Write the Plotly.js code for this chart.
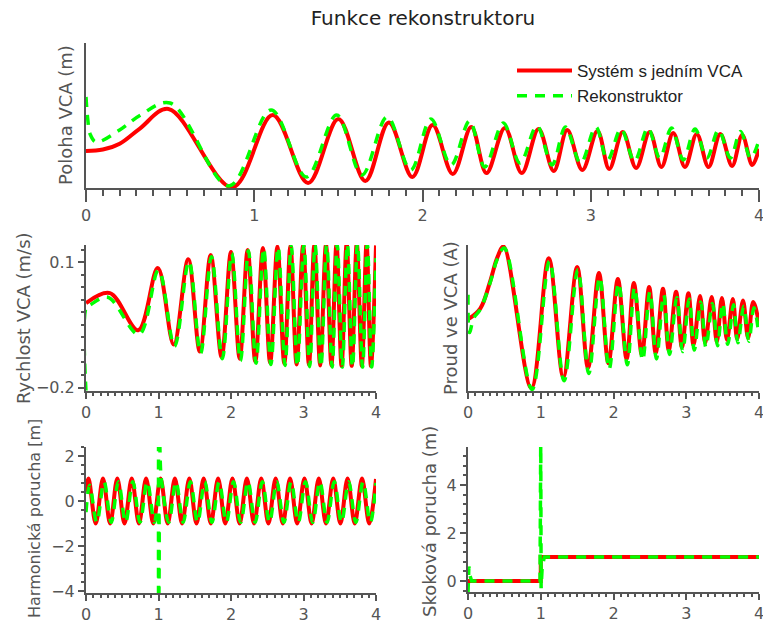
<!DOCTYPE html>
<html>
<head>
<meta charset="utf-8">
<script src="https://cdn.plot.ly/plotly-3.0.1.min.js"></script>
<style>html,body{margin:0;padding:0;background:#fff;}#chart{width:763px;height:621px;}</style>
</head>
<body>
<div id="chart"></div>
<script>
// ---------- data (extrema of each curve) ----------
var seriesNames = ["Systém s jedním VCA", "Rekonstruktor"];

// Poloha VCA (normalised units, axis has no tick labels)
var posT_sys = [0, 0.1, 0.2, 0.32, 0.49, 0.87, 1.11, 1.32, 1.50, 1.66, 1.80, 1.94, 2.06, 2.18, 2.29, 2.38, 2.49, 2.59, 2.69, 2.78, 2.86, 2.95, 3.04, 3.11, 3.19, 3.27, 3.35, 3.42, 3.49, 3.56, 3.63, 3.70, 3.77, 3.84, 3.90, 3.96, 4.0];
var posY_sys = [0.255, 0.265, 0.305, 0.41, 0.545, 0.005, 0.503, 0.034, 0.476, 0.048, 0.452, 0.076, 0.434, 0.097, 0.421, 0.103, 0.414, 0.103, 0.407, 0.117, 0.40, 0.124, 0.393, 0.131, 0.386, 0.138, 0.386, 0.145, 0.38, 0.145, 0.372, 0.145, 0.372, 0.152, 0.366, 0.159, 0.27];
var posT_rec = [0, 0.01, 0.025, 0.06, 0.2, 0.32, 0.50, 0.85, 1.10, 1.31, 1.49, 1.64, 1.79, 1.93, 2.05, 2.17, 2.28, 2.37, 2.48, 2.58, 2.68, 2.77, 2.85, 2.94, 3.03, 3.10, 3.18, 3.26, 3.34, 3.41, 3.48, 3.55, 3.62, 3.69, 3.76, 3.83, 3.89, 3.95, 4.0];
var posY_rec = [0.628, 0.48, 0.37, 0.317, 0.40, 0.50, 0.586, 0.014, 0.538, 0.076, 0.503, 0.09, 0.49, 0.124, 0.476, 0.159, 0.462, 0.145, 0.448, 0.172, 0.428, 0.159, 0.42, 0.172, 0.42, 0.193, 0.407, 0.186, 0.414, 0.207, 0.414, 0.193, 0.407, 0.207, 0.40, 0.207, 0.39, 0.207, 0.33];

// Rychlost VCA (m/s)
var velT_sys = [0, 0.33, 0.72, 0.99, 1.21, 1.41, 1.57, 1.72, 1.87, 2.00, 2.12, 2.23, 2.335, 2.44, 2.54, 2.64, 2.735, 2.82, 2.905, 2.995, 3.075, 3.15, 3.23, 3.31, 3.385, 3.455, 3.525, 3.595, 3.665, 3.735, 3.805, 3.87, 3.93, 4.0];
var velY_sys = [0.002, 0.026, -0.063, 0.086, -0.097, 0.107, -0.114, 0.117, -0.127, 0.124, -0.131, 0.129, -0.138, 0.134, -0.141, 0.137, -0.143, 0.139, -0.145, 0.141, -0.146, 0.142, -0.147, 0.143, -0.147, 0.144, -0.148, 0.144, -0.148, 0.145, -0.148, 0.145, -0.148, 0.14];
var velT_rec = [0, 0.004, 0.05, 0.30, 0.73, 1.00, 1.22, 1.42, 1.58, 1.73, 1.88, 2.01, 2.13, 2.24, 2.345, 2.45, 2.55, 2.65, 2.745, 2.83, 2.915, 3.005, 3.085, 3.16, 3.24, 3.32, 3.395, 3.465, 3.535, 3.605, 3.675, 3.745, 3.815, 3.88, 3.94, 4.0];
var velY_rec = [-0.21, -0.008, -0.003, 0.016, -0.073, 0.081, -0.101, 0.102, -0.118, 0.113, -0.131, 0.121, -0.136, 0.127, -0.142, 0.133, -0.145, 0.136, -0.147, 0.138, -0.149, 0.14, -0.15, 0.141, -0.15, 0.142, -0.151, 0.143, -0.151, 0.143, -0.151, 0.144, -0.151, 0.144, -0.151, 0.11];

// Proud ve VCA (normalised units, axis has no tick labels)
var curT_sys = [0, 0.17, 0.31, 0.40, 0.49, 0.87, 1.11, 1.31, 1.50, 1.65, 1.80, 1.93, 2.06, 2.18, 2.28, 2.39, 2.49, 2.58, 2.68, 2.76, 2.86, 2.94, 3.03, 3.10, 3.19, 3.26, 3.35, 3.42, 3.49, 3.56, 3.64, 3.70, 3.78, 3.85, 3.92, 4.0];
var curY_sys = [0.49, 0.566, 0.76, 0.91, 0.99, 0.02, 0.91, 0.096, 0.85, 0.158, 0.808, 0.19, 0.767, 0.22, 0.74, 0.247, 0.712, 0.26, 0.70, 0.28, 0.68, 0.30, 0.67, 0.315, 0.65, 0.33, 0.644, 0.336, 0.637, 0.35, 0.63, 0.356, 0.62, 0.363, 0.61, 0.466];
var curT_rec = [0, 0.02, 0.08, 0.17, 0.31, 0.40, 0.50, 0.88, 1.12, 1.32, 1.51, 1.66, 1.81, 1.94, 2.07, 2.19, 2.29, 2.40, 2.50, 2.59, 2.69, 2.77, 2.87, 2.95, 3.04, 3.11, 3.20, 3.27, 3.36, 3.43, 3.50, 3.57, 3.65, 3.71, 3.79, 3.86, 3.93, 4.0];
var curY_rec = [0.66, 0.40, 0.50, 0.56, 0.75, 0.90, 0.98, 0.01, 0.89, 0.07, 0.83, 0.12, 0.78, 0.15, 0.74, 0.18, 0.71, 0.21, 0.68, 0.22, 0.66, 0.25, 0.64, 0.27, 0.63, 0.28, 0.61, 0.30, 0.60, 0.31, 0.60, 0.32, 0.59, 0.33, 0.58, 0.34, 0.57, 0.38];

// Harmonická porucha [m]
var harT_sys = [0, 0.035, 0.134, 0.234, 0.333, 0.432, 0.531, 0.631, 0.730, 0.829, 0.928, 1.028, 1.127, 1.226, 1.325, 1.425, 1.524, 1.623, 1.722, 1.822, 1.921, 2.020, 2.119, 2.219, 2.318, 2.417, 2.516, 2.616, 2.715, 2.814, 2.913, 3.013, 3.112, 3.211, 3.310, 3.410, 3.509, 3.608, 3.707, 3.807, 3.906, 4.0];
var harY_sys = [0.41, 1, -1, 1, -1, 1, -1, 1, -1, 1, -1, 1, -1, 1, -1, 1, -1, 1, -1, 1, -1, 1, -1, 1, -1, 1, -1, 1, -1, 1, -1, 1, -1, 1, -1, 1, -1, 1, -1, 1, -1, 0.98];
var harT_rec = [0, 0.05, 0.149, 0.249, 0.348, 0.447, 0.546, 0.646, 0.745, 0.844, 0.943, 0.995, 1.0, 1.006, 1.03, 1.045, 1.142, 1.241, 1.340, 1.440, 1.539, 1.638, 1.737, 1.837, 1.936, 2.035, 2.134, 2.234, 2.333, 2.432, 2.531, 2.631, 2.730, 2.829, 2.928, 3.028, 3.127, 3.226, 3.325, 3.425, 3.524, 3.623, 3.722, 3.822, 3.921, 4.0];
var harY_rec = [-0.5, 0.7, -0.95, 0.85, -0.95, 0.85, -0.95, 0.85, -0.95, 0.85, -0.95, 0.0, -6.0, 4.0, 1.3, 0.85, -0.95, 0.85, -0.95, 0.85, -0.95, 0.85, -0.95, 0.85, -0.95, 0.85, -0.95, 0.85, -0.95, 0.85, -0.95, 0.85, -0.95, 0.85, -0.95, 0.85, -0.95, 0.85, -0.95, 0.85, -0.95, 0.85, -0.95, 0.85, -0.95, 0.8];

// Skoková porucha (m)
var stepT_sys = [0, 1.0, 1.0, 4.0];
var stepY_sys = [0, 0, 1, 1];
var stepT_rec = [0, 0.006, 0.012, 0.025, 0.05, 0.99, 1.0, 1.005, 1.02, 1.05, 4.0];
var stepY_rec = [-0.5, 0.2, 0.6, 0.25, 0.0, 0.0, 6.0, -0.3, 0.6, 1.0, 1.0];

var xTickVals = [0, 1, 2, 3, 4];

// ---------- styling ----------
var RED = '#ff0000', GREEN = '#00ff00';
var AX = '#555555';
var FONT = 'DejaVu Sans, Verdana, sans-serif';

function sysTrace(x, y, xa, ya, shape, show) {
  return {x: x, y: y, xaxis: xa, yaxis: ya, type: 'scatter', mode: 'lines', name: seriesNames[0],
          showlegend: !!show, legendgroup: 'sys',
          line: {color: RED, width: 4, shape: shape, smoothing: 1}};
}
function recTrace(x, y, xa, ya, shape, show) {
  return {x: x, y: y, xaxis: xa, yaxis: ya, type: 'scatter', mode: 'lines', name: seriesNames[1],
          showlegend: !!show, legendgroup: 'rec',
          line: {color: GREEN, width: 3.5, dash: '10px,8px', shape: shape, smoothing: 1}};
}

var data = [
  sysTrace(posT_sys, posY_sys, 'x', 'y', 'spline', true),
  recTrace(posT_rec, posY_rec, 'x', 'y', 'spline', true),
  sysTrace(velT_sys, velY_sys, 'x2', 'y2', 'spline'),
  recTrace(velT_rec, velY_rec, 'x2', 'y2', 'spline'),
  sysTrace(curT_sys, curY_sys, 'x3', 'y3', 'spline'),
  recTrace(curT_rec, curY_rec, 'x3', 'y3', 'spline'),
  sysTrace(harT_sys, harY_sys, 'x4', 'y4', 'spline'),
  recTrace(harT_rec, harY_rec, 'x4', 'y4', 'spline'),
  sysTrace(stepT_sys, stepY_sys, 'x5', 'y5', 'linear'),
  recTrace(stepT_rec, stepY_rec, 'x5', 'y5', 'linear')
];

var W = 763, H = 621;
function dx(a, b) { return [a / W, b / W]; }
function dy(top, bottom) { return [1 - bottom / H, 1 - top / H]; }

function xAx(domain, anchor, big) {
  return {domain: domain, anchor: anchor, range: [0, 4], tickmode: 'array', tickvals: xTickVals,
          ticks: 'outside', ticklen: big ? 12 : 6, tickwidth: 2, tickcolor: AX,
          minor: {tickmode: 'linear', tick0: 0, dtick: 0.1, ticks: 'outside', ticklen: big ? 6 : 3, tickwidth: 2, tickcolor: AX, showgrid: false},
          showline: true, linecolor: AX, linewidth: 2, showgrid: false, zeroline: false,
          ticklabeloverflow: 'allow',
          tickfont: {family: FONT, size: 16, color: AX}, fixedrange: true};
}
function yAx(domain, anchor, range, opts) {
  var a = {domain: domain, anchor: anchor, range: range,
           showline: true, linecolor: AX, linewidth: 2, showgrid: false, zeroline: false,
           ticklabeloverflow: 'allow',
           tickfont: {family: FONT, size: 16, color: AX}, fixedrange: true};
  if (opts) {
    a.tickmode = 'linear'; a.tick0 = opts.tick0; a.dtick = opts.dtick;
    a.ticks = 'outside'; a.ticklen = 6; a.tickwidth = 2; a.tickcolor = AX;
    a.minor = {tickmode: 'linear', tick0: opts.tick0, dtick: opts.minor, ticks: 'outside', ticklen: 3, tickwidth: 2, tickcolor: AX, showgrid: false};
  } else {
    a.showticklabels = false; a.ticks = '';
  }
  return a;
}

function yTitle(text, cx, cy, size) {
  return {text: text, xref: 'paper', yref: 'paper', x: cx / W, y: 1 - cy / H, xanchor: 'center', yanchor: 'middle',
          textangle: -90, showarrow: false, font: {family: FONT, size: size || 18, color: AX}};
}

var layout = {
  width: W, height: H,
  margin: {l: 0, r: 0, t: 0, b: 0},
  paper_bgcolor: '#ffffff', plot_bgcolor: '#ffffff',
  title: {text: 'Funkce rekonstruktoru', x: 423 / W, xanchor: 'center', xref: 'container',
          y: 1 - 18 / H, yanchor: 'middle', yref: 'container', font: {family: FONT, size: 20, color: '#222222'}},
  showlegend: true,
  legend: {x: 512 / W, y: 1 - 53 / H, xanchor: 'left', yanchor: 'top', bgcolor: 'rgba(0,0,0,0)',
           font: {family: 'Liberation Sans, Arial, sans-serif', size: 17, color: '#222222'}, itemwidth: 55, tracegroupgap: 0},
  xaxis: xAx(dx(86, 759), 'y', true),
  yaxis: yAx(dy(43, 188), 'x', [0, 1]),
  xaxis2: xAx(dx(86, 376), 'y2', false),
  yaxis2: yAx(dy(245, 390.5), 'x2', [-0.207, 0.141], {tick0: 0.1, dtick: 0.3, minor: 0.03}),
  xaxis3: xAx(dx(468, 759), 'y3', false),
  yaxis3: yAx(dy(245, 391), 'x3', [0, 1]),
  xaxis4: xAx(dx(86, 376), 'y4', false),
  yaxis4: yAx(dy(447, 593), 'x4', [-4.09, 2.4], {tick0: 0, dtick: 2, minor: 0.4}),
  xaxis5: xAx(dx(468, 759), 'y5', false),
  yaxis5: yAx(dy(447, 592), 'x5', [-0.46, 5.58], {tick0: 0, dtick: 2, minor: 0.4}),
  annotations: [
    yTitle('Poloha VCA (m)', 66, 115),
    yTitle('Rychlost VCA (m/s)', 23, 318),
    yTitle('Proud ve VCA (A)', 450, 318),
    yTitle('Harmonická porucha [m]', 34, 519, 16),
    yTitle('Skoková porucha (m)', 429, 522)
  ]
};

Plotly.newPlot('chart', data, layout, {displayModeBar: false, staticPlot: true});
</script>
</body>
</html>
